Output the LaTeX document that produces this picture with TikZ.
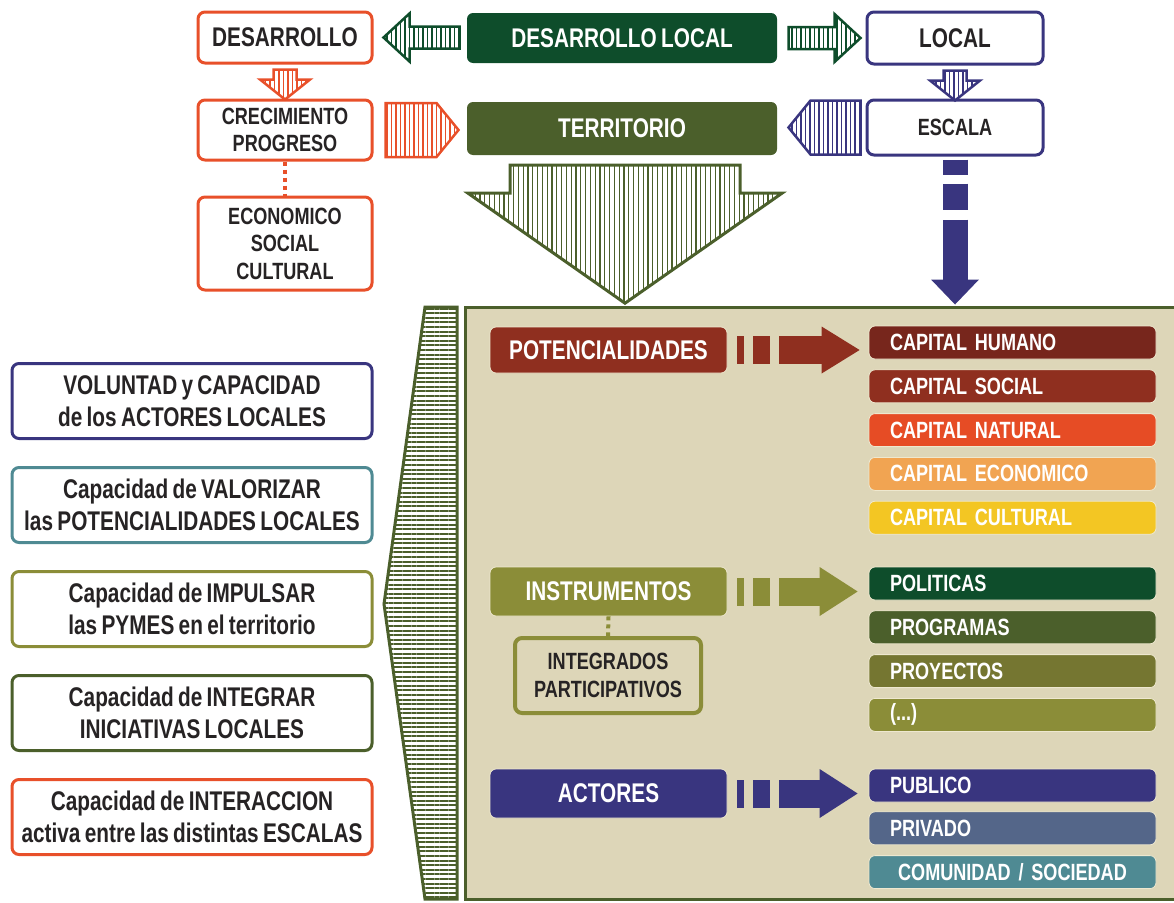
\documentclass[tikz,border=0pt]{standalone}
\usepackage{fontspec}
\setmainfont{Liberation Sans}[FakeStretch=0.77, WordSpace=0.75]
\usepackage{tikz}
\usetikzlibrary{positioning, calc, patterns.meta}

\definecolor{txtgray}{HTML}{262324}
\definecolor{orangeR}{HTML}{E8502A}
\definecolor{navy}{HTML}{39357F}
\definecolor{dkgreen}{HTML}{0E4D2B}
\definecolor{terrgreen}{HTML}{4B5F2B}
\definecolor{olive}{HTML}{8B8D38}
\definecolor{brick}{HTML}{8F2F1F}
\definecolor{humano}{HTML}{77261C}
\definecolor{natural}{HTML}{E64C25}
\definecolor{economico}{HTML}{F1A452}
\definecolor{cultural}{HTML}{F3C623}
\definecolor{proyectos}{HTML}{757631}
\definecolor{privado}{HTML}{546689}
\definecolor{teal}{HTML}{4F8A93}
\definecolor{beige}{HTML}{DDD6B8}
\definecolor{beigeln}{HTML}{EEE8CF}

\newcommand\fbig{\fontsize{27pt}{32pt}\selectfont\bfseries}
\newcommand\fmid{\fontsize{23.5pt}{27.5pt}\selectfont\bfseries}

\tikzset{
wbox/.style={draw=#1, line width=3pt, rounded corners=7pt, fill=white, text=txtgray, align=center, inner sep=0pt}, % white boxes with coloured frame
cbox/.style={fill=#1, rounded corners=6pt, text=white, align=center, inner sep=0pt}, % filled boxes
hbox/.style={cbox=#1, draw=beigeln, line width=0.8pt, minimum width=237pt, font=\fbig},
listbox/.style={cbox=#1, draw=beigeln, line width=0.8pt, minimum height=33pt, text width=245pt, inner xsep=21pt, align=left, font=\fmid},
sidebox/.style={wbox=#1, minimum width=360pt, minimum height=75pt, font=\fbig},
hollow/.style={draw=#1, line width=2.5pt, line join=miter, pattern={Lines[angle=90,distance=4.5pt,line width=1.3pt]}, pattern color=#1},
dashbar/.style={#1, line width=28pt, dash pattern=on 7pt off 9pt on 17pt off 9pt on 400pt},
dots/.style={#1, line width=4pt, dash pattern=on 4pt off 4pt},
}

\begin{document}
\begin{tikzpicture}[x=1pt, y=-1pt]
\useasboundingbox (0,0) rectangle (1174,902);

% panel and striped wedge
\draw[fill=beige, draw=terrgreen, line width=3pt] (465,307) rectangle (1190,899);
\draw[draw=terrgreen, line width=3pt, pattern={Lines[angle=0,distance=4.6pt,line width=2pt]}, pattern color=terrgreen] (425,307) -- (457,307) -- (457,899) -- (425,899) -- (384,604) -- cycle;

% top part
\node[wbox=orangeR, minimum width=174pt, minimum height=51pt, font=\fbig] (des) at (285,37.5) {DESARROLLO};
\node[cbox=dkgreen, minimum width=310pt, minimum height=50pt, font=\fbig] (dl) at (622,38) {DESARROLLO LOCAL};
\node[wbox=navy, minimum width=176pt, minimum height=52pt, font=\fbig] (loc) at (955,38) {LOCAL};
\node[wbox=orangeR, minimum width=174pt, minimum height=60pt, font=\fmid] (cre) at (285,130) {CRECIMIENTO\\PROGRESO};
\node[cbox=terrgreen, minimum width=310pt, minimum height=53pt, font=\fbig] (ter) at (622,128.5) {TERRITORIO};
\node[wbox=navy, minimum width=176pt, minimum height=55pt, font=\fmid] (esc) at (955,127.5) {ESCALA};
\node[wbox=orangeR, minimum width=174pt, minimum height=93pt, font=\fmid] (eco) at (285,243.5) {ECONOMICO\\SOCIAL\\CULTURAL};

% hollow striped arrows
\draw[hollow=dkgreen, shift={(des.east)}] (10,0) -- (36,-24) -- (36,-11) -- (86,-11) -- (86,11) -- (36,11) -- (36,24) -- cycle;
\draw[hollow=dkgreen, shift={(loc.west)}] (-5,0) -- (-31,-24) -- (-31,-11) -- (-77,-11) -- (-77,11) -- (-31,11) -- (-31,24) -- cycle;
\draw[hollow=orangeR, shift={(des.south)}] (0,35) -- (-25,15) -- (-11.5,15) -- (-11.5,5) -- (11.5,5) -- (11.5,15) -- (25,15) -- cycle;
\draw[hollow=navy, shift={(loc.south)}] (0,35) -- (-25,15) -- (-11.5,15) -- (-11.5,5) -- (11.5,5) -- (11.5,15) -- (25,15) -- cycle;
\draw[hollow=orangeR, shift={(cre.east)}] (12,-27) -- (63,-27) -- (85,0) -- (63,27) -- (12,27) -- cycle;
\draw[hollow=navy, shift={(esc.west)}] (-5,-27) -- (-55,-27) -- (-77,0) -- (-55,27) -- (-5,27) -- cycle;
\draw[hollow=terrgreen, line width=3pt, pattern={Lines[angle=90,distance=4.8pt,line width=1.2pt]}, shift={(ter.south)}] (-112,10) -- (118,10) -- (118,38) -- (160,38) -- (3,148) -- (-154,38) -- (-112,38) -- cycle;

\draw[dots=orangeR] (cre.south) -- (eco.north);

% dashed arrow from ESCALA
\coordinate (e1) at ($(esc.south)+(0,3)$);
\coordinate (e2) at ($(esc.south)+(0,123)$);
\draw[navy, line width=25pt, dash pattern=on 15pt off 9pt on 26pt off 10pt on 200pt] (e1) -- (e2);
\fill[navy] ($(e2)+(-24,0)$) -- ($(e2)+(24,0)$) -- ($(e2)+(0,25)$) -- cycle;

% left boxes
\node[sidebox=navy] (vol) at (192,401) {VOLUNTAD y CAPACIDAD\\de los ACTORES LOCALES};
\node[sidebox=teal, below=26pt of vol] (val) {Capacidad de VALORIZAR\\las POTENCIALIDADES LOCALES};
\node[sidebox=olive, below=26pt of val] (imp) {Capacidad de IMPULSAR\\las PYMES en el territorio};
\node[sidebox=terrgreen, below=26pt of imp] (int) {Capacidad de INTEGRAR\\INICIATIVAS LOCALES};
\node[sidebox=orangeR, below=26pt of int] (inter) {Capacidad de INTERACCION\\activa entre las distintas ESCALAS};

% panel contents
\node[hbox=brick, minimum height=46pt] (pot) at (608.5,350) {POTENCIALIDADES};
\node[hbox=olive, minimum height=49pt] (ins) at (608.5,591.5) {INSTRUMENTOS};
\node[wbox=olive, fill=beige, line width=4pt, minimum width=186pt, minimum height=75pt, font=\fmid] (itg) at (608,675.5) {INTEGRADOS\\PARTICIPATIVOS};
\node[hbox=navy, minimum height=49pt] (act) at (608.5,793.5) {ACTORES};
\draw[dots=olive] (ins.south) -- (itg.north);

\node[listbox=humano] (cap1) at (1012.5,342.5) {CAPITAL HUMANO};
\node[listbox=brick, below=10pt of cap1] (cap2) {CAPITAL SOCIAL};
\node[listbox=natural, below=10pt of cap2] (cap3) {CAPITAL NATURAL};
\node[listbox=economico, below=10pt of cap3] (cap4) {CAPITAL ECONOMICO};
\node[listbox=cultural, below=10pt of cap4] (cap5) {CAPITAL CULTURAL};

\node[listbox=dkgreen] (pol) at (1012.5,583.5) {POLITICAS};
\node[listbox=terrgreen, below=10pt of pol] (prg) {PROGRAMAS};
\node[listbox=proyectos, below=10pt of prg] (pry) {PROYECTOS};
\node[listbox=olive, below=10pt of pry] (etc) {(...)};

\node[listbox=navy] (pub) at (1012.5,785.5) {PUBLICO};
\node[listbox=privado, below=9pt of pub] (pri) {PRIVADO};
\node[listbox=teal, align=center, below=10pt of pri] (com) {COMUNIDAD / SOCIEDAD};

% dashed block arrows in the panel
\coordinate (p1) at ($(pot.east)+(10,0)$);
\coordinate (p2) at ($(pot.east -| cap1.west)+(-47,0)$);
\draw[dashbar=brick] (p1) -- (p2);
\fill[brick] ($(p2)+(0,-23.5)$) -- ($(p2)+(38,0)$) -- ($(p2)+(0,23.5)$) -- cycle;

\coordinate (i1) at ($(ins.east)+(10,0)$);
\coordinate (i2) at ($(ins.east -| pol.west)+(-49,0)$);
\draw[dashbar=olive] (i1) -- (i2);
\fill[olive] ($(i2)+(0,-24.5)$) -- ($(i2)+(38,0)$) -- ($(i2)+(0,24.5)$) -- cycle;

\coordinate (c1) at ($(act.east)+(10,0)$);
\coordinate (c2) at ($(act.east -| pub.west)+(-49,0)$);
\draw[dashbar=navy] (c1) -- (c2);
\fill[navy] ($(c2)+(0,-24.5)$) -- ($(c2)+(38,0)$) -- ($(c2)+(0,24.5)$) -- cycle;
\end{tikzpicture}
\end{document}
